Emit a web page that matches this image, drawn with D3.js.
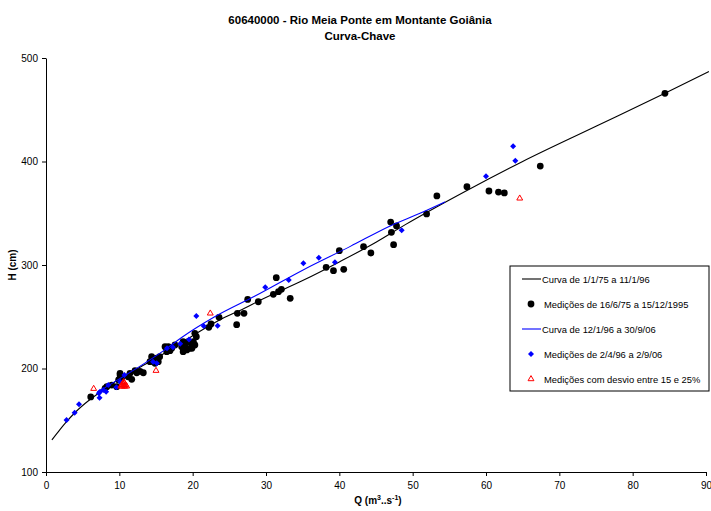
<!DOCTYPE html>
<html><head><meta charset="utf-8">
<script src="https://cdn.jsdelivr.net/npm/d3@7"></script>
<style>body{margin:0;background:#fff}svg{font-family:"Liberation Sans",Arial,sans-serif}</style>
</head><body><svg id="c" width="711" height="511"></svg>
<script>
const titleLines = ["60640000 - Rio Meia Ponte em Montante Goiânia", "Curva-Chave"];
const xTicks = [0,10,20,30,40,50,60,70,80,90];
const yTicks = [100,200,300,400,500];
const legendLabels = ["Curva de 1/1/75 a 11/1/96","Medições de 16/6/75 a 15/12/1995","Curva de 12/1/96 a 30/9/06","Medições de 2/4/96 a 2/9/06","Medições com desvio entre 15 e 25%"];

// Curve 1/1/75 - 11/1/96 (Q, H)
const curveOld = [[0.8,131],[1.9,141],[2.6,147],[3.9,157],[6,170],[8,180],[10,190],[13,202],[15,210],[18.3,224],[21,236],[24,248],[27,258],[29.2,266],[35,285],[40,303],[45,322],[49,339],[57.4,372],[65,400],[75,434],[84.4,466],[90.4,487]];
// Curve 12/1/96 - 30/9/06
const curveNew = [[7,177],[10,190],[13,203],[16,217],[18.5,230],[23,250],[28.5,270],[35,295],[41.5,318],[47,338],[51,350],[54.4,361]];

const measOld = [[6.1,172.5],[8.05,180.9],[8.3,182.4],[8.96,184],[9.64,182.4],[9.9,188.9],[10.1,193.7],[10.1,195.4],[10.3,190.5],[11.2,192],[11.45,195.4],[11.69,189.6],[12.14,197.9],[12.37,195.9],[12.82,197.3],[13.27,195.9],
[14.18,206.6],[14.4,211.4],[14.63,208.2],[14.86,205],[15.1,209.9],[15.31,206.6],[15.5,211.4],[16.23,221.1],[16.46,216.2],[16.68,221.1],[16.9,217.2],[17.14,219.5],[17.59,222.7],
[18.5,221],[18.7,216.2],[18.96,222.7],[19.4,225.9],[19.6,219.5],[19.87,224.3],[18.7,225.9],[19.2,217.9],[20.1,225.9],[20.3,222.7],[20.5,230.7],[20.3,234],[19.9,219.5],
[22.2,239.8],[22.5,243],[23.6,249.5],[26,242.3],[26.1,253.3],[27,253.3],[27.5,266.7],[28.95,264.5],
[31,271.7],[31.4,287.7],[31.7,274.2],[32.1,276.5],[33.3,267.8],
[38.2,297.8],[39.2,294.5],[40,313.8],[40.6,295.8],[43.3,317.7],[44.3,311.6],
[47,341.5],[47.8,337.7],[47.1,331.6],[47.4,319.6],
[51.9,349.3],[53.3,366.7],[57.4,375.6],[60.4,371.5],[61.7,370.5],[62.5,369.6],[67.4,395.6],[84.4,465.9]];

const measNew = [[2.8,150.2],[3.9,157.3],[4.5,165.4],[7.3,171.8],[7.36,177.6],[7.2,176],[7.8,179.2],[8.2,177.6],[8.5,184],[9.6,181.8],[10.1,187.2],[10.7,193.7],
[14.6,206.6],[15.1,205],[16.5,219.5],[17.3,220.5],[18.3,224],[19.5,228],
[20.5,250.7],[21.5,241],[23.4,241.4],
[29.9,278.4],[33.1,285.5],[35.1,301.6],[37.2,307.1],[39.4,302.6],[48.5,333.5],
[60,385.7],[63.7,414.7],[64,400.8]];

const measDev = [[6.5,180.5],[10.2,182.8],[10.4,182.8],[10.6,182.8],[10.8,182.8],[11.0,182.8],[10.35,184.3],[10.6,184.3],[10.85,184.3],[10.5,185.8],[10.7,185.8],[10.6,187],[15,197.9],[22.4,253.3],[64.6,364.4]];

const svg = d3.select("#c");
const x = d3.scaleLinear().domain([0,90]).range([46,706]);
const y = d3.scaleLinear().domain([100,500]).range([472,58]);

// title
svg.append("g").selectAll("text").data(titleLines).join("text")
  .attr("x",360).attr("y",(d,i)=>24+i*16).attr("text-anchor","middle")
  .attr("font-size",11.5).attr("font-weight","bold").text(d=>d);

// axes
const xAxis = svg.append("g").attr("transform","translate(0,472)")
  .call(d3.axisBottom(x).tickValues(xTicks).tickSize(4).tickSizeOuter(0).tickPadding(6));
const yAxis = svg.append("g").attr("transform","translate(46,0)")
  .call(d3.axisLeft(y).tickValues(yTicks).tickSize(4).tickSizeOuter(0).tickPadding(4));
[xAxis,yAxis].forEach(a=>{a.selectAll("text").attr("font-size",10).attr("fill","#000").attr("font-family","Liberation Sans, Arial, sans-serif");
  a.select(".domain").attr("stroke","#000"); a.selectAll(".tick line").attr("stroke","#000");});

svg.append("text").attr("transform","translate(16,265) rotate(-90)").attr("text-anchor","middle")
  .attr("font-size",10).attr("font-weight","bold").text("H (cm)");
const xt = svg.append("text").attr("x",378).attr("y",504).attr("text-anchor","middle")
  .attr("font-size",10).attr("font-weight","bold");
xt.append("tspan").text("Q (m");
xt.append("tspan").attr("font-size",7).attr("dy",-4).text("3");
xt.append("tspan").attr("dy",4).text("..s");
xt.append("tspan").attr("font-size",7).attr("dy",-4).text("-1");
xt.append("tspan").attr("dy",4).text(")");

const line = d3.line().x(d=>x(d[0])).y(d=>y(d[1])).curve(d3.curveMonotoneX);
const sym = {
  circle: d3.symbol().type(d3.symbolCircle).size(36),
  diamond: d3.symbol().type(d3.symbolSquare).size(18),
  tri: d3.symbol().type(d3.symbolTriangle).size(15)
};

svg.append("path").datum(curveOld).attr("d",line).attr("fill","none").attr("stroke","#000").attr("stroke-width",1.1);
svg.append("g").selectAll("path").data(measOld).join("path")
  .attr("d",sym.circle()).attr("transform",d=>`translate(${x(d[0])},${y(d[1])})`).attr("fill","#000");
svg.append("path").datum(curveNew).attr("d",line).attr("fill","none").attr("stroke","#0000ff").attr("stroke-width",1.1);
svg.append("g").selectAll("path").data(measNew).join("path")
  .attr("d",sym.diamond()).attr("transform",d=>`translate(${x(d[0])},${y(d[1])}) rotate(45)`).attr("fill","#0000ff");
svg.append("g").selectAll("path").data(measDev).join("path")
  .attr("d",sym.tri()).attr("transform",d=>`translate(${x(d[0])},${y(d[1])})`).attr("fill","none").attr("stroke","#ff0000").attr("stroke-width",1);

// legend
const lg = svg.append("g");
lg.append("rect").attr("x",510).attr("y",266).attr("width",199).attr("height",125).attr("fill","#fff").attr("stroke","#000").attr("stroke-width",1);
const ly = [279,304,329,354,379];
legendLabels.forEach((t,i)=>{
  const g = lg.append("g").attr("transform",`translate(0,${ly[i]})`);
  if(i===0||i===2){
    g.append("line").attr("x1",522).attr("x2",541).attr("y1",0).attr("y2",0).attr("stroke",i===0?"#000":"#0000ff").attr("stroke-width",1.1);
  } else {
    if(i===1) g.append("path").attr("d",sym.circle()).attr("transform","translate(531,0)").attr("fill","#000");
    if(i===3) g.append("path").attr("d",sym.diamond()).attr("transform","translate(531,0) rotate(45)").attr("fill","#0000ff");
    if(i===4) g.append("path").attr("d",sym.tri()).attr("transform","translate(531,0)").attr("fill","none").attr("stroke","#ff0000");
  }
  g.append("text").attr("x",i===0||i===2?542:544).attr("y",3.5).attr("font-size",9.4).text(t);
});
</script></body></html>
